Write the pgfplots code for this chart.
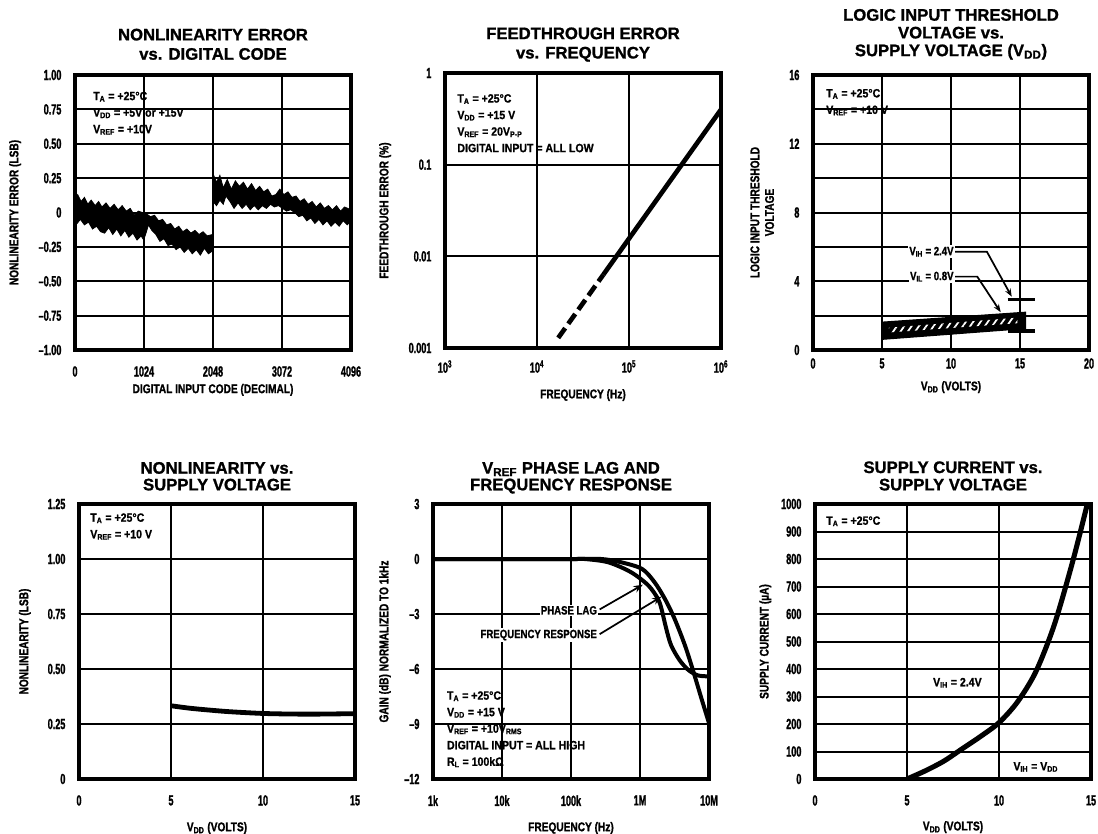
\documentclass[border=0pt]{standalone}
\usepackage{pgfplots}
\pgfplotsset{compat=1.18}
\usepackage{fontspec}
\usetikzlibrary{patterns.meta,arrows.meta}
\setmainfont{Liberation Sans}[BoldFeatures={FakeBold=1.2}]
\newfontfamily\ticksf{Liberation Sans}[FakeStretch=0.62, BoldFeatures={FakeBold=1.2}]
\newfontfamily\labsf{Liberation Sans}[FakeStretch=0.8, BoldFeatures={FakeBold=1.2}]
\newfontfamily\txtsf{Liberation Sans}[FakeStretch=0.88, BoldFeatures={FakeBold=1}]

\pgfplotsset{
  panel/.style={
    scale only axis, width=207pt, height=206.25pt, anchor=south west,
    axis line style={line width=2.6pt},
    grid=major, grid style={line width=1.5pt, black},
    major tick length=0pt, minor tick length=0pt,
    /pgf/number format/assume math mode=true,
    /pgf/number format/set thousands separator={},
    tick label style={font=\ticksf\bfseries\fontsize{11}{12}\selectfont, inner sep=0pt},
    xticklabel style={anchor=north},
    yticklabel style={anchor=east, xshift=-10pt},
    label style={font=\labsf\bfseries\fontsize{9.5}{11}\selectfont},
    xlabel style={anchor=center},
    ylabel style={anchor=center, align=center},
    title style={font=\bfseries\fontsize{12.5}{14.5}\selectfont, align=center, anchor=south, inner sep=0pt},
  },
}
\tikzset{
  txt/.style={font=\txtsf\bfseries\fontsize{9}{12.4}\selectfont, align=left, anchor=north west, inner sep=0pt},
  lbl/.style={font=\labsf\bfseries\fontsize{9}{10}\selectfont, inner sep=1pt},
}

\begin{document}
\begin{tikzpicture}

% ---- nonlinearity error vs digital code
\begin{axis}[panel, at={(56.25pt,-262.5pt)},
  xmin=0, xmax=4096, ymin=-1, ymax=1,
  xtick={0,1024,2048,3072,4096}, xticklabels={0,1024,2048,3072,4096},
  ytick={-1,-0.75,-0.5,-0.25,0,0.25,0.5,0.75,1},
  yticklabels={–1.00,–0.75,–0.50,–0.25,0,0.25,0.50,0.75,1.00},
  xticklabel style={yshift=-12pt},
  title={NONLINEARITY ERROR\\vs. DIGITAL CODE}, title style={at={(0.5,1.025)}},
  xlabel={DIGITAL INPUT CODE (DECIMAL)}, xlabel style={at={(axis description cs:0.5,-0.145)}},
  ylabel={NONLINEARITY ERROR (LSB)}, ylabel style={at={(axis description cs:-0.217,0.5)}}]
\addplot[fill=black, draw=black, line width=0.6pt] coordinates {
 (0,0.10) (40,0.13) (90,0.08) (140,0.11) (190,0.06) (240,0.09) (300,0.05) (350,0.08)
 (400,0.04) (460,0.07) (520,0.03) (580,0.06) (640,0.02) (700,0.05) (760,0.01) (820,0.03)
 (880,-0.02) (940,0.01) (1000,0.0) (1060,-0.01) (1120,-0.03) (1180,-0.02) (1240,-0.06)
 (1300,-0.05) (1360,-0.09) (1420,-0.08) (1480,-0.12) (1540,-0.10) (1600,-0.14) (1660,-0.12)
 (1720,-0.15) (1780,-0.13) (1840,-0.16) (1900,-0.14) (1960,-0.17) (2040,-0.16)
 (2040,-0.28) (1980,-0.30) (1920,-0.26) (1860,-0.31) (1800,-0.27) (1740,-0.30) (1680,-0.26)
 (1620,-0.29) (1560,-0.25) (1500,-0.27) (1440,-0.23) (1380,-0.24) (1320,-0.19) (1260,-0.21)
 (1200,-0.16) (1140,-0.13) (1090,-0.09) (1060,-0.14) (1020,-0.20) (980,-0.17) (920,-0.20)
 (860,-0.15) (800,-0.18) (740,-0.13) (680,-0.17) (620,-0.12) (560,-0.16) (500,-0.11)
 (440,-0.15) (380,-0.14) (320,-0.10) (260,-0.12) (200,-0.07) (140,-0.09) (80,-0.05)
 (30,-0.08) (0,-0.06)} -- cycle;
\addplot[fill=black, draw=black, line width=0.6pt] coordinates {
 (2050,0.28) (2100,0.22) (2150,0.27) (2200,0.18) (2260,0.24) (2320,0.17) (2380,0.23)
 (2440,0.19) (2500,0.22) (2560,0.17) (2620,0.21) (2680,0.16) (2740,0.19) (2800,0.15)
 (2860,0.17) (2920,0.12) (2980,0.13) (3040,0.17) (3100,0.13) (3160,0.15) (3220,0.11)
 (3280,0.12) (3340,0.08) (3400,0.10) (3460,0.06) (3520,0.08) (3580,0.04) (3640,0.07)
 (3700,0.03) (3760,0.05) (3820,0.02) (3880,0.05) (3940,0.01) (4000,0.04) (4096,0.02)
 (4096,-0.06) (4040,-0.09) (3980,-0.06) (3920,-0.10) (3860,-0.07) (3800,-0.10) (3740,-0.06)
 (3680,-0.09) (3620,-0.05) (3560,-0.08) (3500,-0.04) (3440,-0.06) (3380,-0.02) (3320,-0.03)
 (3260,0.0) (3200,0.02) (3140,0.01) (3080,0.03) (3020,0.05) (2960,0.04) (2900,0.06)
 (2840,0.03) (2780,0.05) (2720,0.02) (2660,0.05) (2600,0.02) (2540,0.06) (2480,0.03)
 (2420,0.07) (2360,0.03) (2300,0.08) (2240,0.12) (2200,0.06) (2150,0.09) (2100,0.05)
 (2050,0.08)} -- cycle;
\node[txt] at (rel axis cs:0.065,0.94) {T\textsubscript{A} = +25°C\\V\textsubscript{DD} = +5V or +15V\\V\textsubscript{REF} = +10V};
\end{axis}

% ---- feedthrough error vs frequency
\begin{axis}[panel, at={(333.75pt,-261pt)},
  xmode=log, ymode=log, xmin=1e3, xmax=1e6, ymin=1e-3, ymax=1,
  xtick={1e3,1e4,1e5,1e6},
  xticklabels={10\textsuperscript{3},10\textsuperscript{4},10\textsuperscript{5},10\textsuperscript{6}},
  ytick={1e-3,1e-2,1e-1,1}, yticklabels={0.001,0.01,0.1,1},
  xticklabel style={yshift=-9pt},
  title={FEEDTHROUGH ERROR\\vs. FREQUENCY}, title style={at={(0.5,1.011)}},
  xlabel={FREQUENCY (Hz)}, xlabel style={at={(axis description cs:0.5,-0.171)}},
  ylabel={FEEDTHROUGH ERROR (\%)}, ylabel style={at={(axis description cs:-0.217,0.5)}}]
\addplot[black, line width=3.5pt, dash pattern=on 9pt off 4pt] coordinates {(1.7e4,0.00129) (5.25e4,0.0063)};
\addplot[black, line width=3.5pt] coordinates {(5.25e4,0.0063) (1e6,0.40)};
\node[txt] at (rel axis cs:0.044,0.924) {T\textsubscript{A} = +25°C\\V\textsubscript{DD} = +15 V\\V\textsubscript{REF} = 20V\textsubscript{P-P}\\DIGITAL INPUT = ALL LOW};
\end{axis}

% ---- logic input threshold
\begin{axis}[panel, at={(609.75pt,-262.5pt)},
  xmin=0, xmax=20, ymin=0, ymax=16,
  xtick={0,5,10,15,20}, ytick={0,4,8,12,16}, minor ytick={2,6,10,14},
  grid=both, minor grid style={line width=1.5pt, black},
  xticklabel style={yshift=-6pt},
  title={LOGIC INPUT THRESHOLD\\VOLTAGE vs.\\SUPPLY VOLTAGE (V\textsubscript{DD})},
  title style={at={(0.5,1.026)}, font=\bfseries\fontsize{12.5}{13.3}\selectfont},
  xlabel={V\textsubscript{DD} (VOLTS)}, xlabel style={at={(axis description cs:0.5,-0.135)}},
  ylabel={LOGIC INPUT THRESHOLD\\VOLTAGE}, ylabel style={at={(axis description cs:-0.184,0.5)}}]
\addplot[fill=black, draw=black, line width=0.8pt] coordinates {(5,0.62) (15.4,1.25) (15.4,2.2) (5,1.62)} -- cycle;
\addplot[draw=none, pattern={Lines[angle=55, distance=4.5pt, line width=1.3pt]}, pattern color=white]
  coordinates {(5.5,1.02) (14.8,1.56) (14.8,1.88) (5.5,1.3)} -- cycle;
\addplot[black, line width=2.5pt] coordinates {(14.1,2.92) (16.1,2.92)};
\addplot[black, line width=2.5pt] coordinates {(14.1,1.1) (16.1,1.1)};
\draw[line width=1.3pt, -{Stealth[length=6pt]}] (axis cs:10.3,5.72) -- (axis cs:12.6,5.72) -- (axis cs:14.4,3.1);
\draw[line width=1.3pt, -{Stealth[length=6pt]}] (axis cs:10.3,4.27) -- (axis cs:11.9,4.27) -- (axis cs:13.6,2.2);
\node[lbl, fill=white, anchor=east] at (axis cs:10.3,5.72) {V\textsubscript{IH} = 2.4V};
\node[lbl, fill=white, anchor=east] at (axis cs:10.3,4.27) {V\textsubscript{IL} = 0.8V};
\node[txt] at (rel axis cs:0.047,0.95) {T\textsubscript{A} = +25°C\\V\textsubscript{REF} = +10 V};
\end{axis}

% ---- nonlinearity vs supply voltage
\begin{axis}[panel, at={(59.25pt,-584.25pt)},
  xmin=0, xmax=15, ymin=0, ymax=1.25,
  xtick={0,5,10,15}, ytick={0,0.25,0.5,0.75,1,1.25},
  yticklabels={0,0.25,0.50,0.75,1.00,1.25},
  xticklabel style={yshift=-12pt},
  title={NONLINEARITY vs.\\SUPPLY VOLTAGE}, title style={at={(0.5,1.019)}, font=\bfseries\fontsize{12.5}{12.5}\selectfont},
  xlabel={V\textsubscript{DD} (VOLTS)}, xlabel style={at={(axis description cs:0.5,-0.178)}},
  ylabel={NONLINEARITY (LSB)}, ylabel style={at={(axis description cs:-0.196,0.5)}}]
\addplot[black, line width=3.6pt, smooth] coordinates {
 (5,0.333) (6,0.322) (7,0.314) (8,0.307) (9,0.302) (10,0.298) (11,0.296) (12,0.295)
 (13,0.295) (14,0.296) (15,0.297)};
\node[txt] at (rel axis cs:0.04,0.967) {T\textsubscript{A} = +25°C\\V\textsubscript{REF} = +10 V};
\end{axis}

% ---- VREF phase lag and frequency response
\begin{axis}[panel, at={(324.75pt,-584.25pt)},
  xmode=log, xmin=1e3, xmax=1e7, ymin=-12, ymax=3,
  xtick={1e3,1e4,1e5,1e6,1e7}, xticklabels={1k,10k,100k,1M,10M},
  ytick={-12,-9,-6,-3,0,3}, yticklabels={–12,–9,–6,–3,0,3},
  xticklabel style={yshift=-12pt},
  title={V\textsubscript{REF} PHASE LAG AND\\FREQUENCY RESPONSE}, title style={at={(0.5,1.008)}, font=\bfseries\fontsize{12.5}{12.5}\selectfont},
  xlabel={FREQUENCY (Hz)}, xlabel style={at={(axis description cs:0.5,-0.178)}},
  ylabel={GAIN (dB) NORMALIZED TO 1kHz}, ylabel style={at={(axis description cs:-0.174,0.5)}}]
\addplot[black, line width=3pt, smooth] coordinates {
 (1e3,0) (1e5,0) (2.75e5,0) (5.37e5,-0.18) (1.07e6,-0.54) (1.62e6,-1.26) (2.29e6,-2.17)
 (3.16e6,-3.25) (4.47e6,-4.7) (5.89e6,-6.1) (7.76e6,-7.6) (9.9e6,-8.9)};
\addplot[black, line width=3pt, smooth] coordinates {
 (1e3,0) (1e5,0) (1.58e5,0) (3.47e5,-0.18) (7.41e5,-0.72) (1.32e6,-1.44) (1.82e6,-2.17)
 (2.04e6,-2.7) (2.4e6,-3.8) (2.82e6,-4.7) (3.72e6,-5.5) (5.01e6,-6.05) (6.92e6,-6.35) (9.9e6,-6.4)};
\draw[line width=1.3pt, -{Stealth[length=7pt]}] (axis cs:2.6e5,-2.75) -- (axis cs:1.1e6,-1.4);
\draw[line width=1.3pt, -{Stealth[length=7pt]}] (axis cs:2.6e5,-4.1) -- (axis cs:2.05e6,-2.05);
\node[lbl, fill=white, anchor=east] at (axis cs:2.5e5,-2.8) {PHASE LAG};
\node[lbl, fill=white, anchor=east] at (axis cs:2.5e5,-4.15) {FREQUENCY RESPONSE};
\node[txt] at (rel axis cs:0.05,0.32) {T\textsubscript{A} = +25°C\\V\textsubscript{DD} = +15 V\\V\textsubscript{REF} = +10V\textsubscript{RMS}\\DIGITAL INPUT = ALL HIGH\\R\textsubscript{L} = 100kΩ};
\end{axis}

% ---- supply current vs supply voltage
\begin{axis}[panel, at={(611.25pt,-584.25pt)},
  xmin=0, xmax=15, ymin=0, ymax=1000,
  xtick={0,5,10,15}, ytick={0,100,200,300,400,500,600,700,800,900,1000},
  xticklabel style={yshift=-12pt},
  title={SUPPLY CURRENT vs.\\SUPPLY VOLTAGE}, title style={at={(0.5,1.019)}, font=\bfseries\fontsize{12.5}{13}\selectfont},
  xlabel={V\textsubscript{DD} (VOLTS)}, xlabel style={at={(axis description cs:0.5,-0.175)}},
  ylabel={SUPPLY CURRENT (µA)}, ylabel style={at={(axis description cs:-0.18,0.5)}}]
\addplot[black, line width=3.8pt, smooth] coordinates {
 (5,0) (6,30) (7,65) (8,110) (9,155) (10,205) (11,280) (12,390) (13,560) (14,790) (14.8,1000)};
\node[txt] at (rel axis cs:0.04,0.956) {T\textsubscript{A} = +25°C};
\node[txt, anchor=center] at (axis cs:7.74,350) {V\textsubscript{IH} = 2.4V};
\node[txt, anchor=center] at (axis cs:12.0,44) {V\textsubscript{IH} = V\textsubscript{DD}};
\end{axis}

\pgfresetboundingbox
\path[use as bounding box] (0,0) rectangle (823.5pt,-624.75pt);
\end{tikzpicture}
\end{document}
